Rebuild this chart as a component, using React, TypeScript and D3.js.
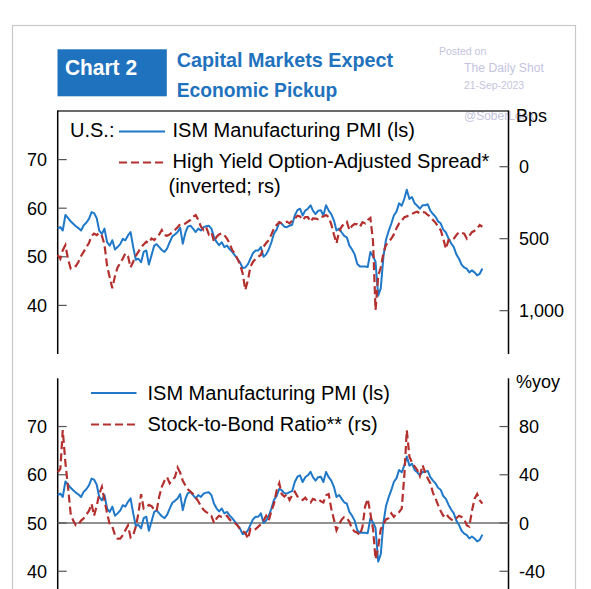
import React from "react";
import * as d3 from "d3";

// ---------- DATA (monthly, Jan 2010 .. Aug 2023) ----------
const startMonth = "2010-01";
const ismPmi = [
  55.8, 56.1, 55.4, 58.6, 58.0, 57.3, 56.8, 56.3, 55.9, 55.4, 56.5, 57.0,
  57.8, 59.2, 59.0, 58.0, 55.4, 54.7, 55.8, 53.0, 52.3, 53.4, 51.5, 52.0,
  52.6, 53.7, 53.4, 54.4, 55.1, 52.0, 49.4, 49.6, 48.9, 51.0, 51.3, 48.4,
  50.3, 52.3, 52.6, 52.0, 51.4, 51.0, 51.7, 53.0, 54.2, 54.6, 55.1, 56.0,
  52.7, 55.0, 56.2, 56.4, 55.8, 55.1, 55.8, 55.4, 56.1, 56.3, 56.4, 55.8,
  54.0, 53.0, 52.4, 53.0, 52.0, 52.3, 51.6, 51.0, 50.3, 49.6, 48.8, 47.7,
  47.8, 48.5, 49.6, 50.8, 51.3, 51.3, 52.0, 50.0, 50.5, 51.5, 53.0, 54.8,
  55.6, 57.1, 56.8, 56.2, 56.1, 56.4, 56.6, 58.5, 59.6, 59.9, 58.5, 59.5,
  59.9, 60.6, 59.5, 58.8, 59.5, 59.6, 58.5, 60.6, 59.5, 58.8, 57.5, 55.4,
  55.8, 55.0, 54.3, 54.0, 52.3, 51.5, 50.5, 48.5, 48.0, 48.0, 48.0, 47.9,
  51.0, 50.1, 49.0, 42.0, 43.5, 50.0, 53.5, 55.3, 56.8, 58.5, 59.3, 61.0,
  60.5, 62.0, 63.8, 61.9, 62.3, 61.0, 60.5, 59.9, 60.6, 60.6, 60.8, 59.5,
  58.8, 58.2, 57.3, 56.9, 55.6, 55.0, 53.8, 52.8, 52.0, 50.5, 49.6, 48.4,
  47.8, 47.5, 46.8, 47.2, 46.8, 46.2, 46.5, 47.6,
];
const hySpreadBps = [
  613, 640, 580, 545, 640, 706, 690, 690, 660, 620, 590, 560,
  530, 480, 465, 475, 460, 480, 540, 690, 770, 845, 760, 700,
  670, 637, 602, 620, 700, 660, 620, 590, 560, 540, 521, 530,
  498, 509, 490, 470, 440, 475, 480, 470, 455, 440, 420, 400,
  400, 394, 382, 370, 347, 336, 370, 417, 440, 420, 470, 455,
  521, 486, 470, 463, 475, 500, 532, 579, 602, 640, 680, 740,
  856, 787, 694, 660, 640, 625, 613, 556, 530, 509, 470, 430,
  405, 385, 392, 388, 382, 394, 375, 362, 340, 345, 370, 350,
  350, 382, 359, 360, 365, 350, 345, 336, 350, 400, 470, 532,
  450, 415, 395, 382, 440, 410, 398, 400, 417, 385, 394, 370,
  355, 520, 995, 760, 700, 600, 544, 525, 500, 470, 428, 394,
  375, 350, 345, 336, 328, 318, 313, 324, 315, 318, 335, 347,
  370, 390, 415, 440, 500, 570, 510, 515, 500, 475, 455, 460,
  465, 500, 480, 455, 445, 430, 405, 417,
];
const stockBondYoy = [
  42, 45, 77, 50, 30, 8, 2, -2, -1, 2, 4, 7,
  10, 16, 6, 14, 24, 30, 19, 8, -1, -3, -10, -13,
  -13, -10, -6, -2, -12, -10, -3, 8, 24, 12, 13, 15,
  14, 11, 10, 22, 30, 35, 38, 33, 36, 38, 46, 42,
  35, 31, 28, 26, 24, 21, 18, 14, 11, 9, 8, 6,
  0, 4, 6, 5, 5, 6, 3, 1, 0, -2, -5, -7,
  -8, -13, -5, -6, -5, -3, -1, 2, 6, 2, 10, 16,
  27, 33, 24, 22, 24, 19, 23, 26, 22, 21, 19, 21,
  18, 17, 20, 19, 20, 18, 17, 23, 24, 12, 3, -6,
  -1, 3, 5, 4, 1, -5, -7, -8, -10, -3, 14, 20,
  8, -5, -30, -20, -5, -1, 3, 4, 8, 5, 8, 9,
  12, 40, 77, 55, 50, 47, 44, 39, 48, 42, 37, 33,
  25, 20, 15, 10, 6, 8, 5, 3, 2, 4, 6, 5,
  3, -2, -3, 10, 20, 24, 19, 16,
];
const pmiTicks = [40, 50, 60, 70];
const hyTicks = [0, 500, 1000];
const sbTicks = [-40, 0, 40, 80];
const xDomain = ["2010-01-01", "2024-06-01"];

// ---------- STYLE ----------
const BLUE = "#1f78c8";
const RED = "#b3302f";
const TITLE_BLUE = "#1f72bd";
const WM = "#c4c4de";
const FONT = "'Liberation Sans', Arial, Helvetica, sans-serif";

const L = 57.7;
const R = 508.5;

export default function App() {
  const parse = d3.timeParse("%Y-%m");
  const t0 = parse(startMonth) as Date;
  const dates = ismPmi.map((_, i) => d3.timeMonth.offset(t0, i));

  const x = d3
    .scaleTime()
    .domain(xDomain.map((s) => new Date(s + "T00:00:00")))
    .range([L, R]);

  // top panel
  const y1 = d3.scaleLinear().domain([30, 80]).range([354, 111]);
  const y1r = d3.scaleLinear().domain([-387, 1301]).range([111, 354]);
  // bottom panel
  const y2 = d3.scaleLinear().domain([30, 80]).range([619.5, 378.3]);
  const y2r = d3.scaleLinear().domain([-80, 120]).range([619.5, 378.3]);

  const mk = (ys: d3.ScaleLinear<number, number>, vals: number[]) =>
    d3
      .line<number>()
      .x((_, i) => x(dates[i]))
      .y((v) => ys(v))(vals) as string;

  const fmt = d3.format(",");
  const tickStyle = { fontFamily: FONT, fontSize: 18, fill: "#000" } as const;
  const legStyle = { fontFamily: FONT, fontSize: 20, fill: "#000" } as const;

  return (
    <svg
      width={591}
      height={589}
      style={{ position: "absolute", left: 0, top: 0, background: "#fff" }}
    >
      <rect x={0} y={0} width={591} height={589} fill="#fff" />
      {/* outer frame */}
      <rect x={12.5} y={25.5} width={563} height={620} fill="none" stroke="#c8c8c8" strokeWidth={1.2} />

      {/* header */}
      <rect x={57.5} y={49.3} width={109.3} height={47} fill={TITLE_BLUE} />
      <text x={65} y={75.2} fontFamily={FONT} fontWeight="bold" fontSize={22} fill="#fff"
        textLength={72} lengthAdjust="spacingAndGlyphs">
        Chart 2
      </text>
      <text x={176.7} y={66.7} fontFamily={FONT} fontWeight="bold" fontSize={21} fill={TITLE_BLUE}
        textLength={216.5} lengthAdjust="spacingAndGlyphs">
        Capital Markets Expect
      </text>
      <text x={176.7} y={97.3} fontFamily={FONT} fontWeight="bold" fontSize={21} fill={TITLE_BLUE}
        textLength={160.5} lengthAdjust="spacingAndGlyphs">
        Economic Pickup
      </text>

      {/* watermark */}
      <text x={439} y={55} fontFamily={FONT} fontSize={10.5} fill={WM}>Posted on</text>
      <text x={464} y={72} fontFamily={FONT} fontSize={12.2} fill={WM}>The Daily Shot</text>
      <text x={464} y={89} fontFamily={FONT} fontSize={10.4} fill={WM}>21-Sep-2023</text>
      <text x={464} y={120} fontFamily={FONT} fontSize={12} fill={WM}>@SoberLook</text>

      {/* ---------- TOP PANEL ---------- */}
      <line x1={L} x2={R} y1={111} y2={111} stroke="#3a3a3a" strokeWidth={1.3} />
      <line x1={L} x2={L} y1={110.4} y2={354} stroke="#000" strokeWidth={1.5} />
      <line x1={R} x2={R} y1={110.4} y2={354} stroke="#000" strokeWidth={1.5} />
      {pmiTicks.map((t) => (
        <g key={"l1" + t}>
          <line x1={L} x2={L + 9} y1={y1(t)} y2={y1(t)} stroke="#555" strokeWidth={1.2} />
          <text x={47} y={y1(t)} dy="0.36em" textAnchor="end" {...tickStyle}>{t}</text>
        </g>
      ))}
      {hyTicks.map((t) => (
        <g key={"r1" + t}>
          <line x1={R - 9} x2={R} y1={y1r(t)} y2={y1r(t)} stroke="#555" strokeWidth={1.2} />
          <text x={519} y={y1r(t)} dy="0.36em" {...tickStyle}>{fmt(t)}</text>
        </g>
      ))}
      <text x={516} y={122} {...tickStyle}>Bps</text>

      <path d={mk(y1, ismPmi)} fill="none" stroke={BLUE} strokeWidth={2} strokeLinejoin="round" />
      <path d={mk(y1r, hySpreadBps)} fill="none" stroke={RED} strokeWidth={2.2} strokeDasharray="8,4" />

      <text x={70} y={137} {...legStyle}>U.S.:</text>
      <line x1={119} x2={165} y1={131.5} y2={131.5} stroke={BLUE} strokeWidth={2} />
      <text x={172.5} y={137} {...legStyle}>ISM Manufacturing PMI (ls)</text>
      <line x1={119} x2={165} y1={162.5} y2={162.5} stroke={RED} strokeWidth={2.2} strokeDasharray="8,4" />
      <text x={172.5} y={168} {...legStyle}>High Yield Option-Adjusted Spread*</text>
      <text x={168.5} y={193} {...legStyle}>(inverted; rs)</text>

      {/* ---------- BOTTOM PANEL ---------- */}
      <line x1={L} x2={L} y1={378.3} y2={620} stroke="#000" strokeWidth={1.5} />
      <line x1={R} x2={R} y1={378.3} y2={620} stroke="#000" strokeWidth={1.5} />
      <line x1={L} x2={R} y1={y2r(0)} y2={y2r(0)} stroke="#6e6e6e" strokeWidth={1.5} />
      {pmiTicks.map((t) => (
        <g key={"l2" + t}>
          <line x1={L} x2={L + 9} y1={y2(t)} y2={y2(t)} stroke="#555" strokeWidth={1.2} />
          <text x={47} y={y2(t)} dy="0.36em" textAnchor="end" {...tickStyle}>{t}</text>
        </g>
      ))}
      {sbTicks.map((t) => (
        <g key={"r2" + t}>
          <line x1={R - 9} x2={R} y1={y2r(t)} y2={y2r(t)} stroke="#555" strokeWidth={1.2} />
          <text x={519} y={y2r(t)} dy="0.36em" {...tickStyle}>{t}</text>
        </g>
      ))}
      <text x={516} y={388} {...tickStyle}>%yoy</text>

      <path d={mk(y2, ismPmi)} fill="none" stroke={BLUE} strokeWidth={2} strokeLinejoin="round" />
      <path d={mk(y2r, stockBondYoy)} fill="none" stroke={RED} strokeWidth={2.2} strokeDasharray="8,4" />

      <line x1={91} x2={136.5} y1={393} y2={393} stroke={BLUE} strokeWidth={2} />
      <text x={147.5} y={400} {...legStyle}>ISM Manufacturing PMI (ls)</text>
      <line x1={91} x2={136.5} y1={424.5} y2={424.5} stroke={RED} strokeWidth={2.2} strokeDasharray="8,4" />
      <text x={147.5} y={431} {...legStyle}>Stock-to-Bond Ratio** (rs)</text>
    </svg>
  );
}
